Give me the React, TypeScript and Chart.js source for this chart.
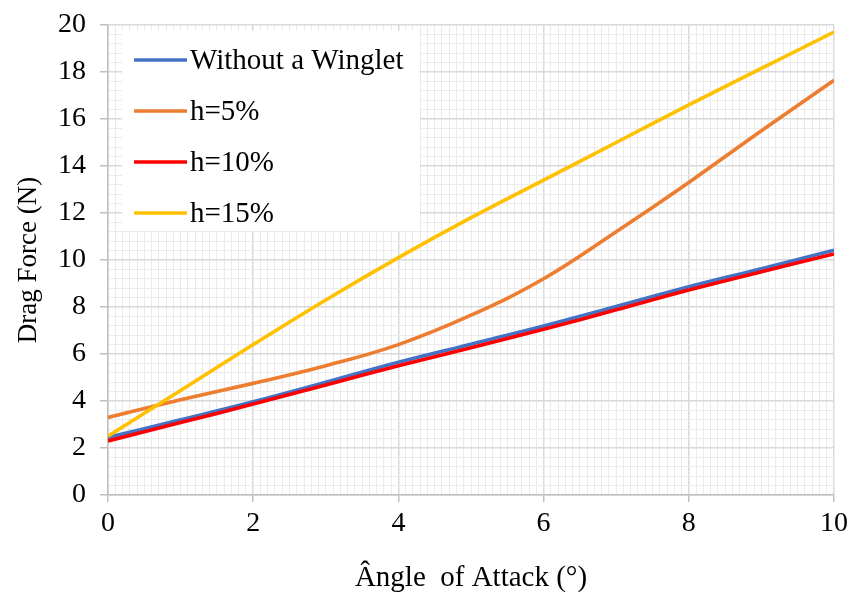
import { useEffect, useRef } from 'react';
import { Chart, registerables } from 'chart.js';

Chart.register(...registerables);

// Angle of attack (degrees)
const angles = [0, 1, 2, 3, 4, 5, 6, 7, 8, 9, 10];

// Drag force (N) per configuration
const withoutWinglet = [2.45, 3.2, 3.97, 4.8, 5.65, 6.42, 7.19, 8.02, 8.86, 9.63, 10.42];
const h5 = [3.3, 4.05, 4.75, 5.5, 6.4, 7.65, 9.2, 11.2, 13.3, 15.5, 17.65];
const h10 = [2.3, 3.08, 3.87, 4.68, 5.5, 6.27, 7.05, 7.88, 8.72, 9.5, 10.26];
const h15 = [2.5, 4.45, 6.4, 8.3, 10.1, 11.8, 13.4, 15.0, 16.6, 18.15, 19.7];

const seriesLabels = ['Without a Winglet', 'h=5%', 'h=10%', 'h=15%'];
const seriesColors = ['#4472C4', '#ED7D31', '#FF0000', '#FFC000'];
const seriesValues = [withoutWinglet, h5, h10, h15];
// drawing order: lower draws on top
const seriesOrder = [4, 3, 2, 1];

const FONT = '"Liberation Serif", "Times New Roman", serif';
const MAJOR_GRID = '#d9d9d9';
const MINOR_GRID = '#ebebeb';

const isMultipleOf = (v: number, step: number) =>
  Math.abs(v / step - Math.round(v / step)) < 1e-6;

// Legend box drawn inside the plot area, over the grid
const insideLegend = {
  id: 'insideLegend',
  afterDatasetsDraw(chart: any) {
    const { ctx } = chart;
    const area = chart.chartArea;
    const x0 = area.left + 14;
    const y0 = area.top + 6;
    const w = 298;
    const h = 200;
    ctx.save();
    ctx.fillStyle = '#ffffff';
    ctx.fillRect(x0, y0, w, h);
    ctx.font = `29px ${FONT}`;
    ctx.textBaseline = 'middle';
    ctx.textAlign = 'left';
    chart.data.datasets.forEach((ds: any, i: number) => {
      const cy = y0 + 29 + i * 51;
      ctx.strokeStyle = ds.borderColor;
      ctx.lineWidth = 3.5;
      ctx.beginPath();
      ctx.moveTo(x0 + 12, cy);
      ctx.lineTo(x0 + 65, cy);
      ctx.stroke();
      ctx.fillStyle = '#000000';
      ctx.fillText(ds.label, x0 + 68, cy + 1);
    });
    ctx.restore();
  },
};

export default function App() {
  const canvasRef = useRef<HTMLCanvasElement | null>(null);

  useEffect(() => {
    const canvas = canvasRef.current;
    if (!canvas) return;

    const datasets = seriesLabels.map((label, i) => ({
      label,
      data: angles.map((a, j) => ({ x: a, y: seriesValues[i][j] })),
      borderColor: seriesColors[i],
      backgroundColor: seriesColors[i],
      borderWidth: 3.6,
      pointRadius: 0,
      tension: 0.4,
      order: seriesOrder[i],
      fill: false,
    }));

    const chart = new Chart(canvas, {
      type: 'line',
      data: { datasets },
      options: {
        animation: false,
        responsive: false,
        maintainAspectRatio: false,
        layout: { padding: { top: 25, right: 21, left: 0, bottom: 0 } },
        plugins: {
          legend: { display: false },
          tooltip: { enabled: false },
        },
        scales: {
          x: {
            type: 'linear',
            min: 0,
            max: 10,
            afterFit: (scale: any) => {
              scale.height = 99;
              scale.paddingLeft = 0;
              scale.paddingRight = 0;
            },
            border: { display: true, color: '#bfbfbf', width: 1.5 },
            grid: {
              color: (c: any) => (c.tick && isMultipleOf(c.tick.value, 2) ? MAJOR_GRID : MINOR_GRID),
              lineWidth: (c: any) => (c.tick && isMultipleOf(c.tick.value, 2) ? 1.5 : 1),
              tickColor: (c: any) => (c.tick && isMultipleOf(c.tick.value, 2) ? '#bfbfbf' : 'rgba(0,0,0,0)'),
              tickLength: 7,
              drawTicks: true,
            },
            ticks: {
              stepSize: 0.1,
              autoSkip: false,
              maxRotation: 0,
              padding: 5,
              color: '#000000',
              font: { family: FONT, size: 28 },
              callback: (v: any) => (isMultipleOf(Number(v), 2) ? String(Math.round(Number(v))) : ''),
            },
            title: {
              display: true,
              text: 'Ângle  of Attack (°)',
              color: '#000000',
              font: { family: FONT, size: 29, lineHeight: 1.1 },
              padding: { top: 0, bottom: 0 },
            },
          },
          y: {
            type: 'linear',
            min: 0,
            max: 20,
            afterFit: (scale: any) => {
              scale.width = 108;
              scale.paddingTop = 0;
              scale.paddingBottom = 0;
            },
            border: { display: true, color: '#bfbfbf', width: 1.5 },
            grid: {
              color: (c: any) => (c.tick && isMultipleOf(c.tick.value, 2) ? MAJOR_GRID : MINOR_GRID),
              lineWidth: (c: any) => (c.tick && isMultipleOf(c.tick.value, 2) ? 1.5 : 1),
              tickColor: (c: any) => (c.tick && isMultipleOf(c.tick.value, 2) ? '#bfbfbf' : 'rgba(0,0,0,0)'),
              tickLength: 8,
              drawTicks: true,
            },
            ticks: {
              stepSize: 0.4,
              autoSkip: false,
              padding: 14,
              color: '#000000',
              font: { family: FONT, size: 28 },
              callback: (v: any) => (isMultipleOf(Number(v), 2) ? String(Math.round(Number(v))) : ''),
            },
            title: {
              display: true,
              text: 'Drag Force (N)',
              color: '#000000',
              font: { family: FONT, size: 27, lineHeight: 1.1 },
              padding: { top: 14, bottom: 0 },
            },
          },
        },
      },
      plugins: [insideLegend],
    });

    return () => {
      chart.destroy();
    };
  }, []);

  return (
    <div style={{ position: 'fixed', left: 0, top: 0, width: 855, height: 594, background: '#ffffff' }}>
      <canvas ref={canvasRef} width={855} height={594} style={{ display: 'block' }} />
    </div>
  );
}
